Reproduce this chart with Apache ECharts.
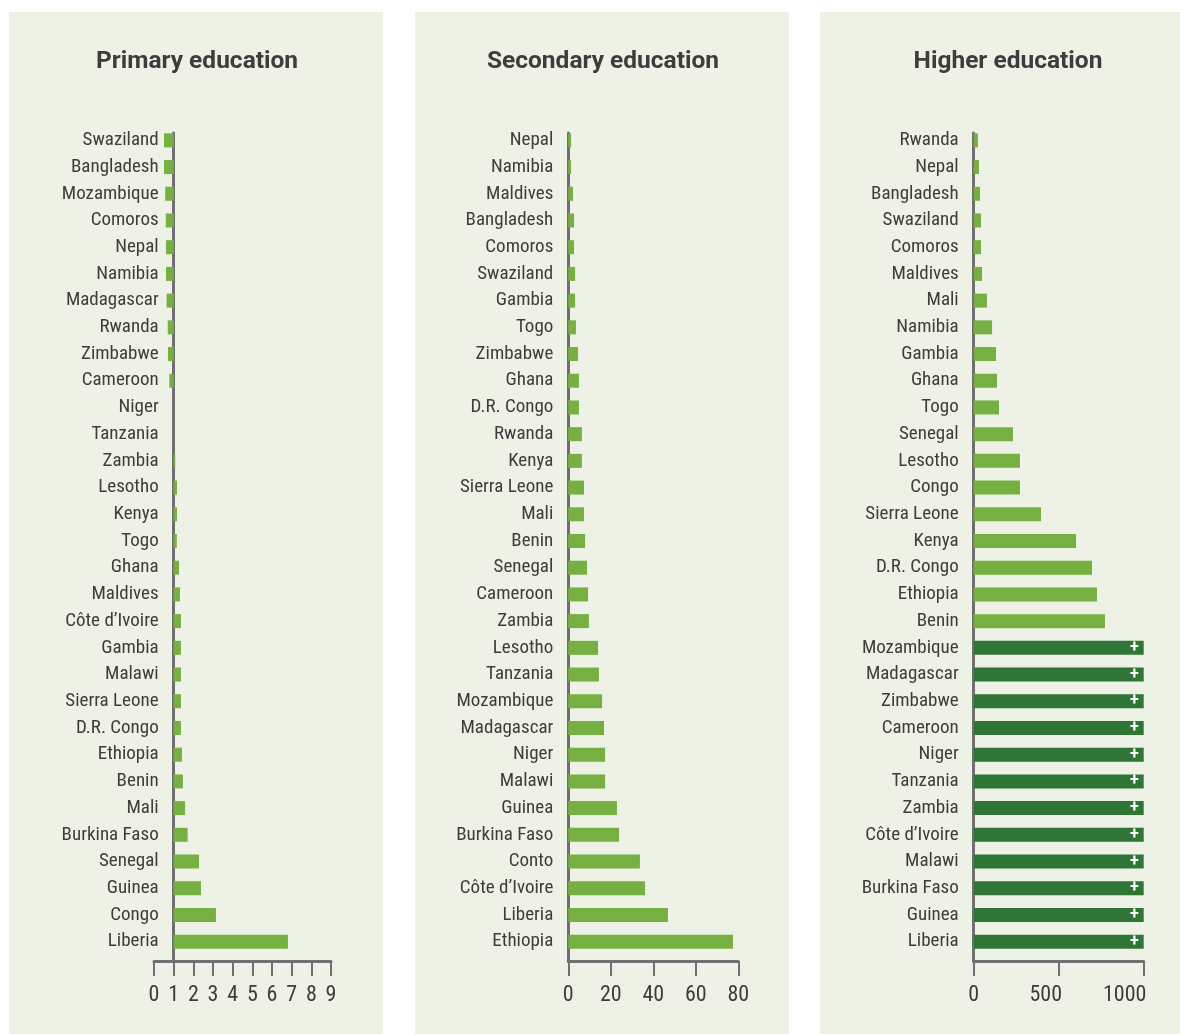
<!DOCTYPE html>
<html>
<head>
<meta charset="utf-8">
<script src="https://cdn.jsdelivr.net/npm/echarts@6/dist/echarts.min.js"></script>
<style>
  html, body { margin: 0; padding: 0; background: #ffffff; }
  #main { width: 1180px; height: 1034px; }
</style>
</head>
<body>
<div id="main"></div>
<script>
// primary: bars start from the baseline 1, not from 0
var primaryCountries = ['Swaziland', 'Bangladesh', 'Mozambique', 'Comoros', 'Nepal', 'Namibia', 'Madagascar', 'Rwanda', 'Zimbabwe', 'Cameroon',
  'Niger', 'Tanzania', 'Zambia', 'Lesotho', 'Kenya', 'Togo', 'Ghana', 'Maldives', 'Côte d’Ivoire', 'Gambia',
  'Malawi', 'Sierra Leone', 'D.R. Congo', 'Ethiopia', 'Benin', 'Mali', 'Burkina Faso', 'Senegal', 'Guinea', 'Congo', 'Liberia']
var primaryValues = [0.51, 0.51, 0.57, 0.6, 0.61, 0.61, 0.64, 0.7, 0.71, 0.78,
  1.0, 1.0, 1.08, 1.17, 1.17, 1.16, 1.27, 1.32, 1.37, 1.37,
  1.37, 1.37, 1.37, 1.42, 1.47, 1.58, 1.71, 2.29, 2.39, 3.15, 6.81]
var primaryTicks = [0, 1, 2, 3, 4, 5, 6, 7, 8, 9]

var secondaryCountries = ['Nepal', 'Namibia', 'Maldives', 'Bangladesh', 'Comoros', 'Swaziland', 'Gambia', 'Togo', 'Zimbabwe', 'Ghana',
  'D.R. Congo', 'Rwanda', 'Kenya', 'Sierra Leone', 'Mali', 'Benin', 'Senegal', 'Cameroon', 'Zambia', 'Lesotho',
  'Tanzania', 'Mozambique', 'Madagascar', 'Niger', 'Malawi', 'Guinea', 'Burkina Faso', 'Conto', 'Côte d’Ivoire', 'Liberia', 'Ethiopia']
var secondaryValues = [1.3, 1.3, 2.2, 2.7, 2.7, 3.2, 3.2, 3.6, 4.6, 5.0,
  5.0, 6.4, 6.4, 7.4, 7.4, 7.9, 8.8, 9.3, 9.7, 14.0,
  14.4, 15.9, 16.8, 17.3, 17.3, 22.9, 23.9, 33.7, 36.1, 46.9, 77.5]
var secondaryTicks = [0, 20, 40, 60, 80]

// higher: values above the cap are drawn at the cap with a "+"
var higherCountries = ['Rwanda', 'Nepal', 'Bangladesh', 'Swaziland', 'Comoros', 'Maldives', 'Mali', 'Namibia', 'Gambia', 'Ghana',
  'Togo', 'Senegal', 'Lesotho', 'Congo', 'Sierra Leone', 'Kenya', 'D.R. Congo', 'Ethiopia', 'Benin', 'Mozambique',
  'Madagascar', 'Zimbabwe', 'Cameroon', 'Niger', 'Tanzania', 'Zambia', 'Côte d’Ivoire', 'Malawi', 'Burkina Faso', 'Guinea', 'Liberia']
var higherValues = [25, 31, 37, 43, 43, 49, 78, 108, 131, 137,
  149, 231, 272, 272, 396, 602, 696, 725, 772, 1000,
  1000, 1000, 1000, 1000, 1000, 1000, 1000, 1000, 1000, 1000, 1000]
var higherTicks = [0, 500, 1000]
var higherCap = 1000

var titles = ['Primary education', 'Secondary education', 'Higher education']

var GREEN = '#76b041'
var DARK_GREEN = '#2e7536'
var AXIS = '#707072'
var TEXT = '#3d3d3d'
var FONT = "'Roboto Condensed', Roboto, sans-serif"

var chart = echarts.init(document.getElementById('main'), null, { renderer: 'canvas' })

// labelShift: px that tick labels are pulled left (the higher panel squeezes them in)
var panels = [
  { x: 9, w: 374, titleX: 192, left: 154, width: 177, countries: primaryCountries, values: primaryValues, ticks: primaryTicks, base: 1 },
  { x: 415, w: 374, titleX: 598, left: 568.3, width: 170, countries: secondaryCountries, values: secondaryValues, ticks: secondaryTicks, base: 0 },
  { x: 820, w: 360, titleX: 1003, left: 973.7, width: 170, countries: higherCountries, values: higherValues, ticks: higherTicks, base: 0, cap: higherCap,
    labelShift: { 500: 13, 1000: 19 } }
]

var grid = [], xAxis = [], yAxis = [], series = [], title = [], graphic = []

panels.forEach(function (p, i) {
  var ticks = p.ticks
  var step = ticks[1] - ticks[0]
  var min = ticks[0] - p.base
  var max = ticks[ticks.length - 1] - p.base
  // category labels sit 15px left of the baseline, which may be right of the grid edge
  var baseOffset = (0 - min) / (max - min) * p.width
  var shift = p.labelShift || {}
  var rich = {}
  Object.keys(shift).forEach(function (k) {
    rich['s' + k] = { fontFamily: FONT, fontSize: 22, color: TEXT, padding: [0, shift[k] * 2, 0, 0] }
  })

  graphic.push({
    type: 'rect', z: -10,
    shape: { x: p.x, y: 12, width: p.w, height: 1022 },
    style: { fill: '#eef1e5' }
  })
  title.push({
    text: titles[i], left: p.titleX, top: 44, textAlign: 'center',
    textStyle: { fontFamily: 'Roboto, sans-serif', fontWeight: 'bold', fontSize: 24.5, color: TEXT }
  })

  // bars grid
  grid.push({ left: p.left, width: p.width, top: 127, height: 828 })
  // axes grid
  grid.push({ left: p.left, width: p.width, top: 133, height: 828 })

  xAxis.push({
    type: 'value', gridIndex: 2 * i, min: min, max: max, interval: step, show: false
  })
  yAxis.push({
    type: 'category', gridIndex: 2 * i, inverse: true, data: p.countries,
    axisLine: { show: false, onZero: false }, axisTick: { show: false },
    axisLabel: { margin: 15 - baseOffset, fontFamily: FONT, fontSize: 19, color: TEXT }
  })
  xAxis.push({
    type: 'value', gridIndex: 2 * i + 1, min: min, max: max, interval: step,
    splitLine: { show: false },
    axisLine: { show: true, lineStyle: { color: AXIS, width: 3 } },
    axisTick: { show: true, length: 15, lineStyle: { color: AXIS, width: 2 } },
    axisLabel: {
      margin: 23, fontFamily: FONT, fontSize: 22, color: TEXT, rich: rich,
      formatter: function (v) {
        var t = v + p.base
        return shift[t] ? '{s' + t + '|' + t + '}' : String(t)
      }
    }
  })
  yAxis.push({
    type: 'value', gridIndex: 2 * i + 1, min: 0, max: 1,
    splitLine: { show: false }, axisTick: { show: false }, axisLabel: { show: false },
    axisLine: { show: true, onZero: true, lineStyle: { color: AXIS, width: 3 } }
  })

  series.push({
    type: 'bar', xAxisIndex: 2 * i, yAxisIndex: 2 * i,
    barWidth: 14, silent: true,
    data: p.values.map(function (v) {
      var capped = p.cap != null && v >= p.cap
      return {
        value: v - p.base,
        itemStyle: { color: capped ? DARK_GREEN : GREEN },
        label: capped ? {
          show: true, position: 'insideRight', distance: 5, formatter: '+',
          color: '#ffffff', fontWeight: 'bold', fontSize: 16, fontFamily: 'Roboto, sans-serif'
        } : { show: false }
      }
    })
  })
})

chart.setOption({
  animation: false,
  backgroundColor: '#ffffff',
  title: title,
  graphic: graphic,
  grid: grid,
  xAxis: xAxis,
  yAxis: yAxis,
  series: series
})
</script>
</body>
</html>
